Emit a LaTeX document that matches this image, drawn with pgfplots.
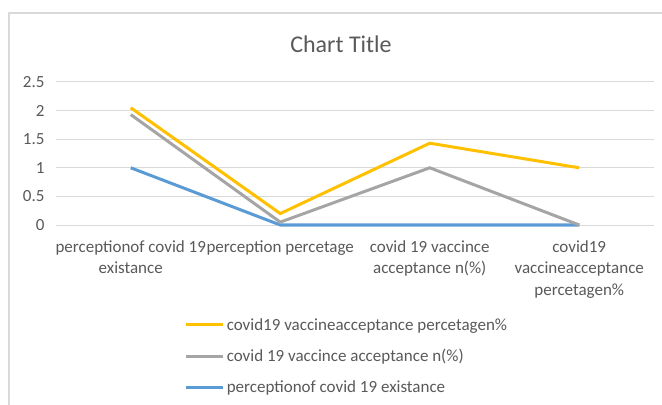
\documentclass[border=0pt]{standalone}
\usepackage{pgfplots}
\pgfplotsset{compat=1.18}
\usepackage{fontspec}
\setmainfont{Carlito}
\definecolor{cblue}{HTML}{5B9BD5}
\definecolor{cgray}{HTML}{A5A5A5}
\definecolor{cyellow}{HTML}{FFC000}
\definecolor{gridc}{HTML}{D9D9D9}
\definecolor{txt}{HTML}{595959}
\begin{document}
\begin{tikzpicture}
\useasboundingbox (0bp,0bp) rectangle (662bp,405bp);
\draw[gridc,line width=1.5bp] (9bp,0bp) -- (9bp,392bp) -- (662bp,392bp);
\node[txt,font=\fontsize{24bp}{28bp}\selectfont] at (341bp,361bp) {Chart Title};
\begin{axis}[
  at={(56bp,180bp)}, anchor=south west,
  scale only axis, width=598bp, height=143bp,
  xmin=-0.5, xmax=3.5, ymin=0, ymax=2.5,
  ytick={0,0.5,1,1.5,2,2.5},
  xtick={0,1,2,3},
  xticklabels={{perceptionof covid 19\\existance},{perception percetage},{covid 19 vaccince\\acceptance n(\%)},{covid19\\vaccineacceptance\\percetagen\%}},
  xticklabel style={align=center, text=txt, font=\fontsize{17bp}{21.5bp}\selectfont, yshift=-12bp},
  yticklabel style={text=txt, font=\fontsize{17bp}{20bp}\selectfont, xshift=-8bp},
  /pgf/number format/assume math mode=true,
  ymajorgrids, xmajorgrids=false, grid style={gridc, line width=1bp},
  axis line style={draw=none},
  tick style={draw=none},
  clip=false,
  legend cell align=left,
  reverse legend,
  legend style={draw=none, fill=none, at={(axis description cs:0.215,-0.637)}, anchor=north west,
    font=\fontsize{17bp}{20bp}\selectfont, text=txt, row sep=13.5bp, inner sep=0pt,
    /tikz/every even column/.append style={column sep=2bp}},
  legend image code/.code={\draw[#1] (0bp,0bp) -- (37bp,0bp);},
]
\addplot[cblue, line width=3bp] coordinates {(0,1) (1,0) (2,0) (3,0)};
\addlegendentry{perceptionof covid 19 existance}
\addplot[cgray, line width=3bp] coordinates {(0,1.93) (1,0.05) (2,1.0) (3,0)};
\addlegendentry{covid 19 vaccince acceptance n(\%)}
\addplot[cyellow, line width=3bp] coordinates {(0,2.05) (1,0.2) (2,1.43) (3,1.0)};
\addlegendentry{covid19 vaccineacceptance percetagen\%}
\end{axis}
\end{tikzpicture}
\end{document}
